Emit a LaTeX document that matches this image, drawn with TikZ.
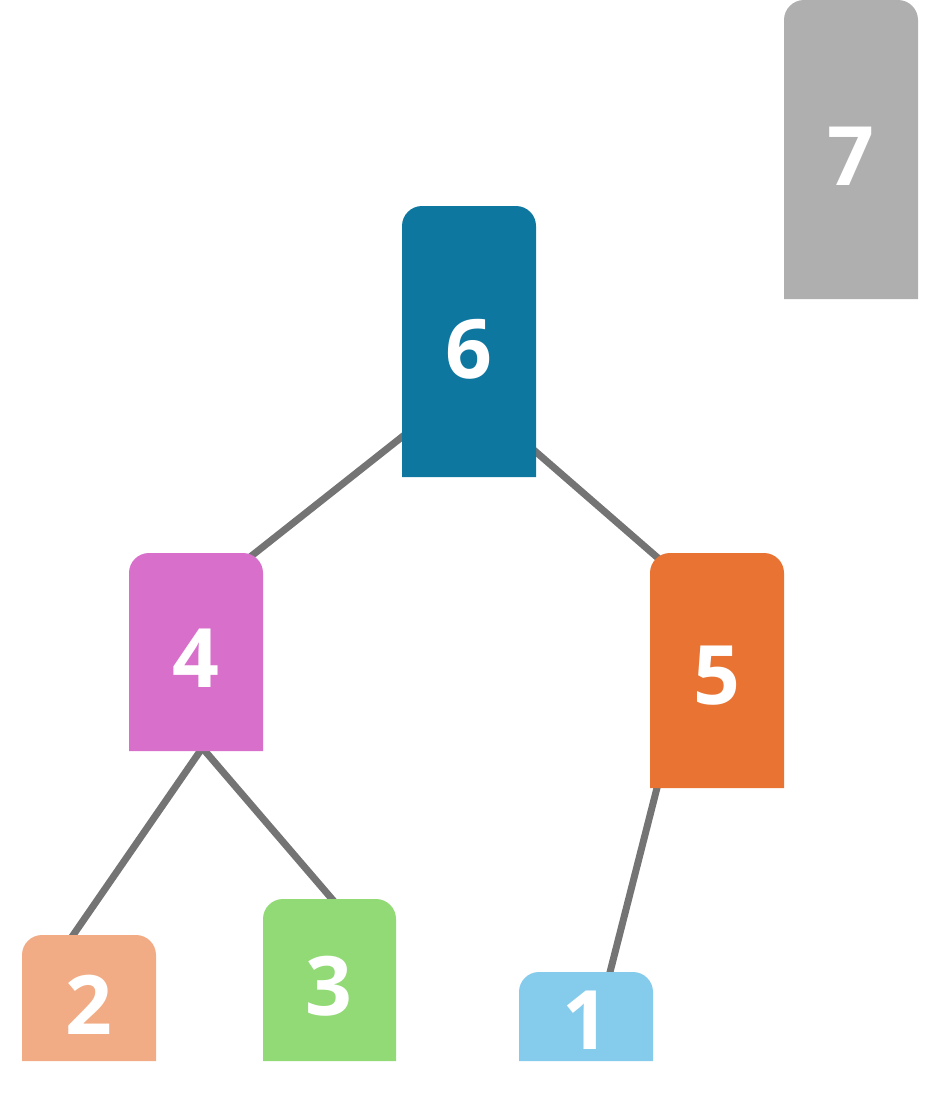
\documentclass[tikz,border=0pt]{standalone}
\usepackage{fontspec}
\setmainfont{Open Sans}
\definecolor{cseven}{HTML}{AFAFAF}
\definecolor{csix}{HTML}{0E77A0}
\definecolor{cfour}{HTML}{D76FCB}
\definecolor{cfive}{HTML}{E87333}
\definecolor{ctwo}{HTML}{F2AC85}
\definecolor{cthree}{HTML}{91DA75}
\definecolor{cone}{HTML}{85CBEB}
\definecolor{edgegray}{HTML}{747474}
\tikzset{
  lbl/.style={text=white, inner sep=0pt, font=\fontsize{82}{82}\selectfont\bfseries},
  edge/.style={draw=edgegray, line width=7pt},
}
\newcommand{\tbox}[5]{% color, x1, y1, x2, y2
  \fill[#1] (#2,#5) [rounded corners=20pt] -- (#2,#3) -- (#4,#3) [sharp corners] -- (#4,#5) -- cycle;}
\begin{document}
\begin{tikzpicture}[x=1pt,y=-1pt]
\useasboundingbox (0,0) rectangle (925,1119);
% edge end points
\coordinate (e64a) at (412,429); \coordinate (e64b) at (240,565);
\coordinate (e65a) at (528,445); \coordinate (e65b) at (666,565);
\coordinate (e42a) at (205,744); \coordinate (e42b) at (67,944);
\coordinate (e43a) at (199,744); \coordinate (e43b) at (338,906);
\coordinate (e51a) at (659,780); \coordinate (e51b) at (608,980);
\draw[edge] (e64a) -- (e64b);
\draw[edge] (e65a) -- (e65b);
\draw[edge] (e42a) -- (e42b);
\draw[edge] (e43a) -- (e43b);
\draw[edge] (e51a) -- (e51b);
% boxes
\tbox{cseven}{784}{0}{918}{299}
\tbox{csix}{402}{206}{536}{477}
\tbox{cfour}{129}{553}{263}{751}
\tbox{cfive}{650}{553}{784}{788}
\tbox{ctwo}{22}{935}{156}{1061}
\tbox{cthree}{263}{899}{396}{1061}
\tbox{cone}{519}{972}{653}{1061}
% labels
\node[lbl] (n7) at (851,156) {7};
\node[lbl] (n6) at (469,349) {6};
\node[lbl] (n4) at (196,658) {4};
\node[lbl] (n5) at (717,676) {5};
\node[lbl] (n2) at (89,1005) {2};
\node[lbl] (n3) at (329,986) {3};
\node[lbl] (n1) at (586,1020) {1};
\end{tikzpicture}
\end{document}
